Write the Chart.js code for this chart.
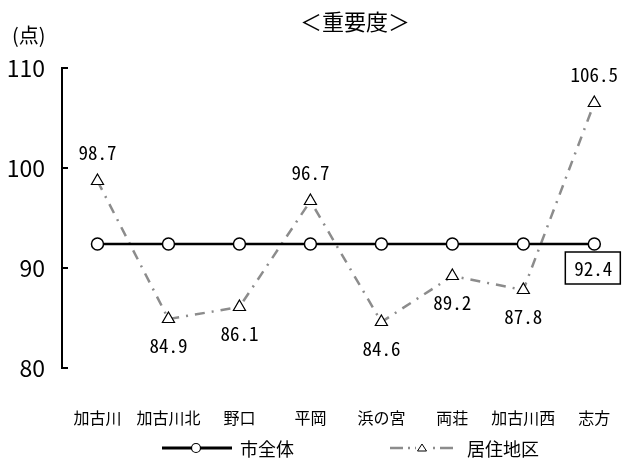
<!DOCTYPE html>
<html>
<head>
<meta charset="utf-8">
<script src="https://cdn.jsdelivr.net/npm/chart.js@4/dist/chart.umd.min.js"></script>
<style>
  html, body { margin: 0; padding: 0; background: #fff; }
  #wrap { width: 638px; height: 461px; position: relative; }
</style>
</head>
<body>
<div id="wrap"><canvas id="chart"></canvas></div>
<script>
const CATEGORIES = ['加古川', '加古川北', '野口', '平岡', '浜の宮', '両荘', '加古川西', '志方'];
const CITY_VALUES = [92.4, 92.4, 92.4, 92.4, 92.4, 92.4, 92.4, 92.4];
const AREA_VALUES = [98.7, 84.9, 86.1, 96.7, 84.6, 89.2, 87.8, 106.5];
const AREA_LABEL_ABOVE = [true, false, false, true, false, false, false, true];
const Y_TICKS = [80, 90, 100, 110];
const SERIES_NAMES = ['市全体', '居住地区'];

const JP = '"Noto Sans CJK JP", "Noto Sans", sans-serif';
const NARROW = '"Liberation Sans Narrow", "Noto Sans CJK JP", sans-serif';
const MONO = '"Noto Sans Mono CJK JP", "Liberation Mono", monospace';
const AREA_DASH = [10, 7, 2, 7];

// draws title, unit, inward ticks, value labels and legend
const decor = {
  id: 'decor',
  afterDraw(chart) {
    const ctx = chart.ctx;
    const x = chart.scales.x, y = chart.scales.y;
    ctx.save();
    ctx.fillStyle = '#000';
    ctx.textAlign = 'center';
    ctx.textBaseline = 'middle';
    ctx.font = '22px ' + JP;
    ctx.fillText('＜重要度＞', 355, 22);
    ctx.textAlign = 'left';
    ctx.font = '20px ' + JP;
    ctx.fillText('(点)', 12, 35);

    // inward tick marks
    ctx.strokeStyle = '#000';
    ctx.lineWidth = 2;
    Y_TICKS.forEach(v => {
      const py = Math.round(y.getPixelForValue(v));
      ctx.beginPath();
      ctx.moveTo(y.right, py);
      ctx.lineTo(y.right + 6, py);
      ctx.stroke();
    });

    // area labels
    ctx.textAlign = 'center';
    ctx.font = '19px ' + MONO;
    AREA_VALUES.forEach((v, i) => {
      const px = x.getPixelForValue(i);
      const py = y.getPixelForValue(v) + (AREA_LABEL_ABOVE[i] ? -28 : 27);
      ctx.fillText(v.toFixed(1), px, py);
    });

    // boxed city label at the last point
    const li = CITY_VALUES.length - 1;
    const bx = x.getPixelForValue(li) - 2, by = y.getPixelForValue(CITY_VALUES[li]) + 24;
    ctx.fillStyle = '#fff';
    ctx.fillRect(bx - 27, by - 16, 55, 32);
    ctx.lineWidth = 1.5;
    ctx.strokeRect(bx - 27, by - 16, 55, 32);
    ctx.fillStyle = '#000';
    ctx.fillText(CITY_VALUES[li].toFixed(1), bx + 1, by + 1);

    // legend
    const ly = 448;
    ctx.lineWidth = 3;
    ctx.strokeStyle = '#000';
    ctx.beginPath(); ctx.moveTo(162, ly); ctx.lineTo(232, ly); ctx.stroke();
    ctx.beginPath(); ctx.arc(196, ly, 4.5, 0, Math.PI * 2);
    ctx.fillStyle = '#fff'; ctx.fill();
    ctx.lineWidth = 1.2; ctx.stroke();

    ctx.strokeStyle = '#8c8c8c';
    ctx.lineWidth = 2.5;
    ctx.setLineDash([13, 5, 2, 5]);
    ctx.beginPath(); ctx.moveTo(390, ly); ctx.lineTo(454, ly); ctx.stroke();
    ctx.setLineDash([]);
    ctx.fillStyle = '#fff';
    ctx.fillRect(416, ly - 6, 12, 12);
    ctx.strokeStyle = '#000';
    ctx.lineWidth = 1;
    ctx.beginPath();
    ctx.moveTo(422, ly - 4); ctx.lineTo(426.5, ly + 3); ctx.lineTo(417.5, ly + 3); ctx.closePath();
    ctx.stroke();

    ctx.fillStyle = '#000';
    ctx.textAlign = 'left';
    ctx.font = '18px ' + JP;
    ctx.fillText(SERIES_NAMES[0], 240, ly + 1);
    ctx.fillText(SERIES_NAMES[1], 467, ly + 1);
    ctx.restore();
  }
};

new Chart(document.getElementById('chart'), {
  type: 'line',
  data: {
    labels: CATEGORIES,
    datasets: [
      {
        label: SERIES_NAMES[1],
        data: AREA_VALUES,
        borderColor: '#8c8c8c',
        borderWidth: 2.5,
        borderDash: AREA_DASH,
        pointStyle: 'triangle',
        pointRadius: 7,
        pointBackgroundColor: '#fff',
        pointBorderColor: '#000',
        pointBorderWidth: 1.2,
        tension: 0,
        order: 2
      },
      {
        label: SERIES_NAMES[0],
        data: CITY_VALUES,
        borderColor: '#000',
        borderWidth: 2.5,
        pointStyle: 'circle',
        pointRadius: 6,
        pointBackgroundColor: '#fff',
        pointBorderColor: '#000',
        pointBorderWidth: 1.5,
        tension: 0,
        order: 1
      }
    ]
  },
  options: {
    responsive: true,
    maintainAspectRatio: false,
    animation: false,
    layout: { padding: { top: 68, right: -7, left: 0, bottom: 0 } },
    plugins: { legend: { display: false }, tooltip: { enabled: false }, title: { display: false } },
    scales: {
      x: {
        offset: true,
        grid: { display: false, drawTicks: false },
        border: { display: false },
        ticks: { color: '#000', font: { size: 16, family: JP }, padding: 40, maxRotation: 0, autoSkip: false },
        afterFit: s => { s.height = 93; s.paddingLeft = 0; s.paddingRight = 0; }
      },
      y: {
        min: 80,
        max: 110,
        grid: { display: false, drawTicks: false },
        border: { display: true, color: '#000', width: 2 },
        ticks: { stepSize: 10, color: '#000', font: { size: 23, family: NARROW }, padding: 17 },
        afterFit: s => { s.width = 62; }
      }
    }
  },
  plugins: [decor]
});
</script>
</body>
</html>
